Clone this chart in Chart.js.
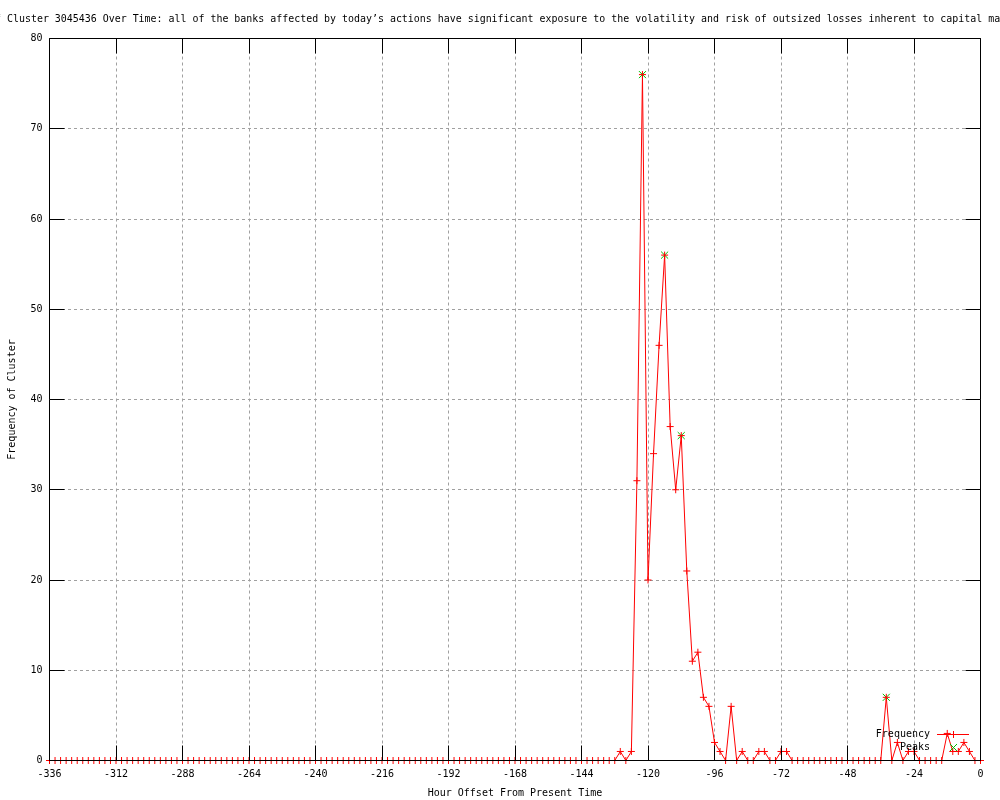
<!DOCTYPE html>
<html>
<head>
<meta charset="utf-8">
<script src="https://cdn.jsdelivr.net/npm/chart.js@4/dist/chart.umd.min.js"></script>
<style>
html,body{margin:0;padding:0;background:#fff;}
#wrap{width:1000px;height:800px;position:relative;}
</style>
</head>
<body>
<div id="wrap"><canvas id="c" width="1000" height="800"></canvas></div>
<script>
// ---- data ----
const titleText = "Frequency of Cluster 3045436 Over Time: all of the banks affected by today\u2019s actions have significant exposure to the volatility and risk of outsized losses inherent to capital markets";
const xAxisTitle = "Hour Offset From Present Time";
const yAxisTitle = "Frequency of Cluster";
const seriesNames = ["Frequency", "Peaks"];

const hours = [
-336,-334,-332,-330,-328,-326,-324,-322,-320,-318,-316,-314,
-312,-310,-308,-306,-304,-302,-300,-298,-296,-294,-292,-290,
-288,-286,-284,-282,-280,-278,-276,-274,-272,-270,-268,-266,
-264,-262,-260,-258,-256,-254,-252,-250,-248,-246,-244,-242,
-240,-238,-236,-234,-232,-230,-228,-226,-224,-222,-220,-218,
-216,-214,-212,-210,-208,-206,-204,-202,-200,-198,-196,-194,
-192,-190,-188,-186,-184,-182,-180,-178,-176,-174,-172,-170,
-168,-166,-164,-162,-160,-158,-156,-154,-152,-150,-148,-146,
-144,-142,-140,-138,-136,-134,-132,-130,-128,-126,-124,-122,
-120,-118,-116,-114,-112,-110,-108,-106,-104,-102,-100,-98,
-96,-94,-92,-90,-88,-86,-84,-82,-80,-78,-76,-74,
-72,-70,-68,-66,-64,-62,-60,-58,-56,-54,-52,-50,
-48,-46,-44,-42,-40,-38,-36,-34,-32,-30,-28,-26,
-24,-22,-20,-18,-16,-14,-12,-10,-8,-6,-4,-2,
0];

const frequency = [
0,0,0,0,0,0,0,0,0,0,0,0,
0,0,0,0,0,0,0,0,0,0,0,0,
0,0,0,0,0,0,0,0,0,0,0,0,
0,0,0,0,0,0,0,0,0,0,0,0,
0,0,0,0,0,0,0,0,0,0,0,0,
0,0,0,0,0,0,0,0,0,0,0,0,
0,0,0,0,0,0,0,0,0,0,0,0,
0,0,0,0,0,0,0,0,0,0,0,0,
0,0,0,0,0,0,0,1,0,1,31,76,
20,34,46,56,37,30,36,21,11,12,7,6,
2,1,0,6,0,1,0,0,1,1,0,0,
1,1,0,0,0,0,0,0,0,0,0,0,
0,0,0,0,0,0,0,7,0,2,0,1,
1,0,0,0,0,0,3,1,1,2,1,0,
0];

const peakHours = [-122, -114, -108, -34];
const peakValues = [76, 56, 36, 7];

const xTickStep = 24;
const yTickStep = 10;

// ---- styles ----
const FONT = '"DejaVu Sans Mono", "Liberation Mono", monospace';
const RED = '#ff0000';
const GREEN = '#00c000';

const framePlugin = {
  id: 'gnuFrame',
  afterDatasetsDraw(chart) {
    const {ctx, chartArea, scales} = chart;
    const L = Math.floor(chartArea.left) + 0.5;
    const R = Math.floor(chartArea.right) + 0.5;
    const T = Math.floor(chartArea.top) + 0.5;
    const B = Math.floor(chartArea.bottom) + 0.5;
    const TL = 15;
    ctx.save();
    ctx.strokeStyle = '#000';
    ctx.lineWidth = 1;
    ctx.setLineDash([]);
    ctx.beginPath();
    ctx.rect(L, T, R - L, B - T);
    scales.x.ticks.forEach(t => {
      const px = Math.floor(scales.x.getPixelForValue(t.value)) + 0.5;
      ctx.moveTo(px, B); ctx.lineTo(px, B - TL);
      ctx.moveTo(px, T); ctx.lineTo(px, T + TL);
    });
    scales.y.ticks.forEach(t => {
      const py = Math.floor(scales.y.getPixelForValue(t.value)) + 0.5;
      ctx.moveTo(L, py); ctx.lineTo(L + TL, py);
      ctx.moveTo(R, py); ctx.lineTo(R - TL, py);
    });
    ctx.stroke();
    ctx.restore();
  },
  afterDraw(chart) {
    const {ctx, chartArea} = chart;
    ctx.save();
    // title (wider than the canvas, clipped like the original)
    ctx.font = '9.95px ' + FONT;
    ctx.fillStyle = '#000';
    ctx.textBaseline = 'middle';
    ctx.textAlign = 'left';
    const charW = ctx.measureText('M').width;
    ctx.fillText(titleText, 7 - 13 * charW, 19);

    // key, inside the plot at the bottom right
    ctx.font = '10px ' + FONT;
    const textR = Math.round(chartArea.right) - 51;
    const sx0 = Math.round(chartArea.right) - 44;
    const sx1 = Math.round(chartArea.right) - 12;
    const sxm = (sx0 + sx1) / 2;
    const y1 = Math.round(chartArea.bottom) - 27;
    const y2 = Math.round(chartArea.bottom) - 14;
    ctx.textAlign = 'right';
    ctx.fillText(chart.data.datasets[0].label, textR, y1);
    ctx.fillText(chart.data.datasets[1].label, textR, y2);
    ctx.lineWidth = 1;
    ctx.strokeStyle = chart.data.datasets[0].borderColor;
    ctx.beginPath();
    ctx.moveTo(sx0, y1 + 0.5); ctx.lineTo(sx1, y1 + 0.5);
    ctx.moveTo(sxm + 0.5, y1 - 3); ctx.lineTo(sxm + 0.5, y1 + 4);
    ctx.stroke();
    ctx.strokeStyle = chart.data.datasets[1].pointBorderColor;
    ctx.beginPath();
    ctx.moveTo(sxm - 3, y2 - 3); ctx.lineTo(sxm + 4, y2 + 4);
    ctx.moveTo(sxm + 4, y2 - 3); ctx.lineTo(sxm - 3, y2 + 4);
    ctx.stroke();
    ctx.restore();
  }
};

const ctx = document.getElementById('c').getContext('2d');
new Chart(ctx, {
  type: 'line',
  data: {
    datasets: [
      {
        label: seriesNames[0],
        data: hours.map((h, i) => ({x: h, y: frequency[i]})),
        borderColor: RED,
        borderWidth: 1,
        pointStyle: 'cross',
        pointRadius: 3.5,
        pointBorderColor: RED,
        pointBorderWidth: 1,
        pointBackgroundColor: RED,
        tension: 0,
        fill: false,
        clip: false
      },
      {
        label: seriesNames[1],
        data: peakHours.map((h, i) => ({x: h, y: peakValues[i]})),
        showLine: false,
        pointStyle: 'crossRot',
        pointRadius: 5,
        pointBorderColor: GREEN,
        pointBackgroundColor: GREEN,
        pointBorderWidth: 1,
        borderColor: GREEN,
        clip: false
      }
    ]
  },
  options: {
    responsive: false,
    animation: false,
    devicePixelRatio: 1,
    layout: { padding: { top: 38.5, right: 19.5, left: 0, bottom: 0 } },
    plugins: {
      legend: { display: false },
      title: { display: false },
      tooltip: { enabled: false }
    },
    scales: {
      x: {
        type: 'linear',
        min: -336,
        max: 0,
        afterFit(s) { s.height = 39.5; },
        ticks: {
          stepSize: xTickStep,
          autoSkip: false,
          maxRotation: 0,
          padding: 8,
          color: '#000',
          font: { family: FONT, size: 10 }
        },
        grid: { color: '#a0a0a0', lineWidth: 1, drawTicks: false },
        border: { display: false, dash: [3, 3] },
        title: {
          display: true,
          text: xAxisTitle,
          color: '#000',
          font: { family: FONT, size: 10 },
          padding: { top: 0, bottom: 1 }
        }
      },
      y: {
        type: 'linear',
        min: 0,
        max: 80,
        afterFit(s) { s.width = 49.5; },
        ticks: {
          stepSize: yTickStep,
          padding: 7,
          color: '#000',
          font: { family: FONT, size: 10 }
        },
        grid: { color: '#a0a0a0', lineWidth: 1, drawTicks: false },
        border: { display: false, dash: [3, 3] },
        title: {
          display: true,
          text: yAxisTitle,
          color: '#000',
          font: { family: FONT, size: 10 },
          padding: { top: 6, bottom: 0 }
        }
      }
    }
  },
  plugins: [framePlugin]
});
</script>
</body>
</html>
